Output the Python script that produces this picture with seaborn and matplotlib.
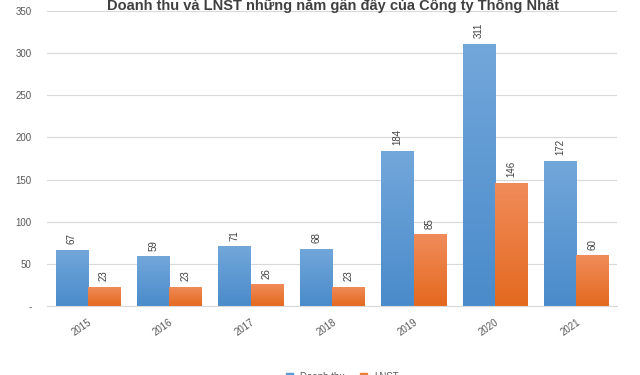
import numpy as np
import pandas as pd
import matplotlib
matplotlib.use("Agg")
import matplotlib.pyplot as plt
import seaborn as sns
from matplotlib.patches import Patch
from matplotlib.colors import LinearSegmentedColormap

# số liệu
years = ["2015", "2016", "2017", "2018", "2019", "2020", "2021"]
doanh_thu = [67, 59, 71, 68, 184, 311, 172]
lnst = [23, 23, 26, 23, 85, 146, 60]

data = pd.DataFrame({
    "Năm": years * 2,
    "Giá trị": doanh_thu + lnst,
    "Chỉ tiêu": ["Doanh thu"] * len(years) + ["LNST"] * len(years),
})

sns.set_style("white")
plt.rcParams["font.family"] = ["Liberation Sans", "DejaVu Sans"]

fig = plt.figure(figsize=(6.4, 3.75), dpi=100)
ax = fig.add_axes([0.0734, 0.184, 0.891, 0.787])

colors = {"Doanh thu": "#5b9bd5", "LNST": "#ed7d31"}
sns.barplot(data=data, x="Năm", y="Giá trị", hue="Chỉ tiêu", palette=colors,
            width=0.79, ax=ax, legend=False, saturation=1, linewidth=0)

# tô màu chuyển (sáng ở trên, đậm ở dưới)
grads = [("#4a8bcb", "#72a7da"), ("#e4691f", "#f08c5a")]
for cont, (c0, c1) in zip(ax.containers, grads):
    cmap = LinearSegmentedColormap.from_list("g", [c0, c1])
    for p in cont.patches:
        x0, y0 = p.get_x(), p.get_y()
        w, h = p.get_width(), p.get_height()
        im = ax.imshow(np.linspace(0, 1, 100).reshape(-1, 1), cmap=cmap, origin="lower",
                       extent=[x0, x0 + w, y0, y0 + h], aspect="auto", zorder=p.get_zorder())
        im.set_clip_path(p)

# nhãn giá trị
for cont in ax.containers:
    ax.bar_label(cont, labels=[str(int(v)) for v in cont.datavalues],
                 rotation=90, padding=4, fontsize=7, color="#404040")

ax.set_ylim(0, 350)
ax.set_yticks(range(0, 351, 50))
ax.set_yticklabels(["-"] + [str(v) for v in range(50, 351, 50)])
ax.yaxis.grid(True, color="#d9d9d9", linewidth=0.8)
ax.set_axisbelow(True)
ax.set_xlim(-0.5, 6.5)
for s in ["top", "right", "left"]:
    ax.spines[s].set_visible(False)
ax.spines["bottom"].set_color("#d9d9d9")
ax.tick_params(axis="both", length=0, labelsize=7, labelcolor="#595959")
ax.tick_params(axis="y", pad=11)
plt.setp(ax.get_xticklabels(), rotation=35, ha="right", rotation_mode="anchor")
ax.tick_params(axis="x", pad=8)
ax.set_xlabel("")
ax.set_ylabel("")

fig.text(0.52, 0.985, "Doanh thu và LNST những năm gần đây của Công ty Thống Nhất",
         ha="center", va="center", fontsize=10.5, fontweight="bold", color="#404040")

handles = [Patch(color=colors[k]) for k in ["Doanh thu", "LNST"]]
fig.legend(handles, ["Doanh thu", "LNST"], loc="center", bbox_to_anchor=(0.535, -0.005),
           ncol=2, frameon=False, fontsize=7, handlelength=0.7, handleheight=0.7,
           labelcolor="#595959", columnspacing=1.5)

fig.savefig("out.png", dpi=100)
